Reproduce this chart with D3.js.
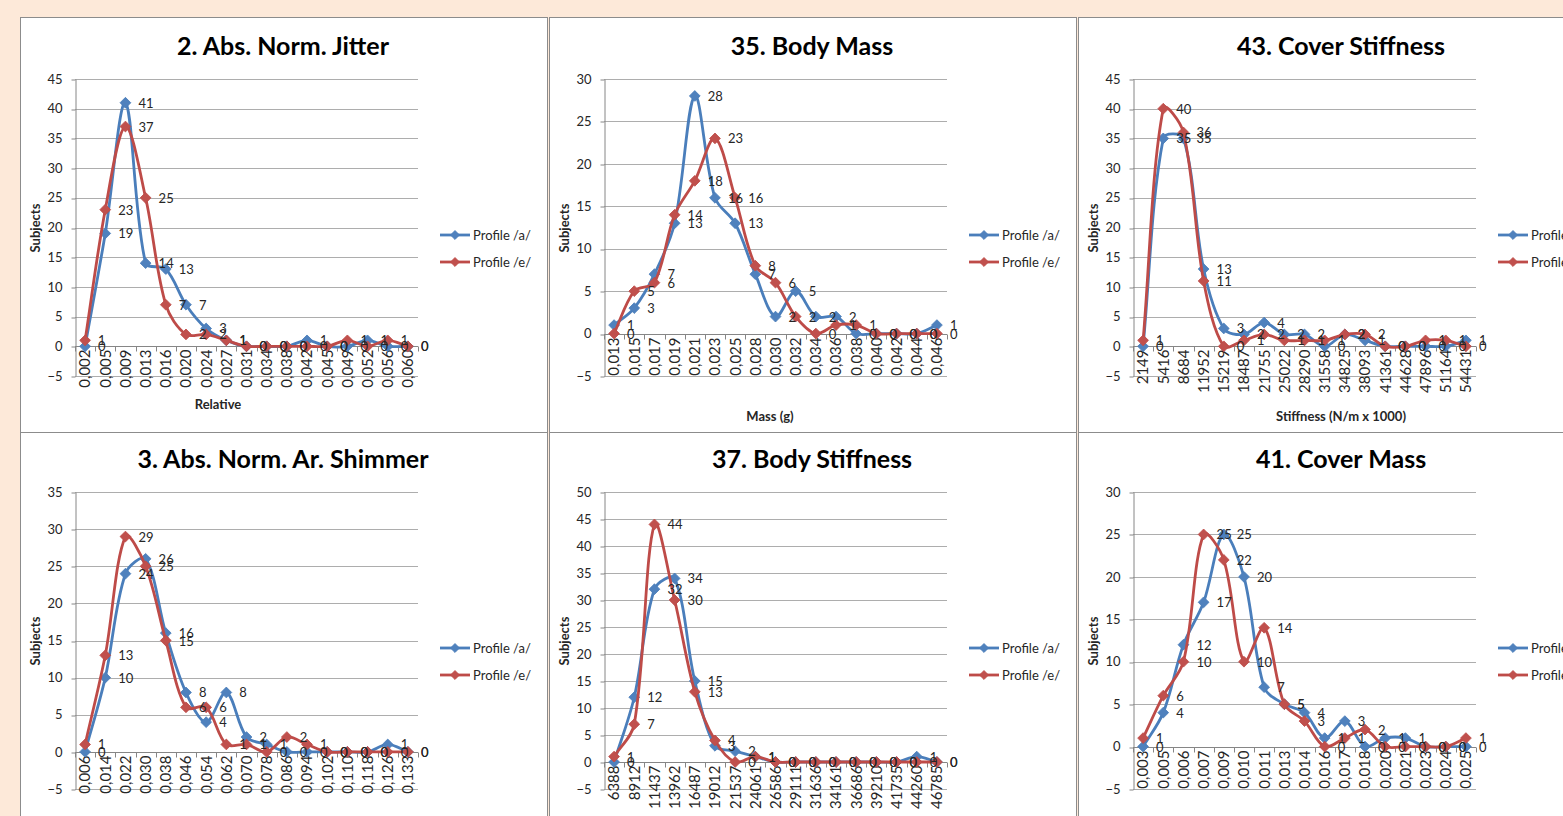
<!DOCTYPE html>
<html>
<head>
<meta charset="utf-8">
<script src="https://cdn.jsdelivr.net/npm/d3@7/dist/d3.min.js"></script>
<style>
  html, body { margin: 0; padding: 0; background: #FDE9D9; }
  svg { display: block; }
  text { font-family: Lato, "Open Sans", sans-serif; }
</style>
</head>
<body>
<svg id="chart" width="1563" height="816"></svg>
<script>
// ---- Data: subject counts per bin, profile /a/ and /e/ ----
const jitterCats = ["0,002","0,005","0,009","0,013","0,016","0,020","0,024","0,027","0,031","0,034","0,038","0,042","0,045","0,049","0,052","0,056","0,060"];
const jitterA = [0,19,41,14,13,7,3,1,0,0,0,1,0,0,1,0,0];
const jitterE = [1,23,37,25,7,2,2,1,0,0,0,0,0,1,0,1,0];

const bodyMassCats = ["0,013","0,015","0,017","0,019","0,021","0,023","0,025","0,028","0,030","0,032","0,034","0,036","0,038","0,040","0,042","0,044","0,046"];
const bodyMassA = [1,3,7,13,28,16,13,7,2,5,2,2,0,0,0,0,1];
const bodyMassE = [0,5,6,14,18,23,16,8,6,2,0,1,1,0,0,0,0];

const coverStiffCats = ["2149","5416","8684","11952","15219","18487","21755","25022","28290","31558","34825","38093","41361","44628","47896","51164","54431"];
const coverStiffA = [0,35,35,13,3,2,4,2,2,0,2,1,0,0,0,0,1];
const coverStiffE = [1,40,36,11,0,1,2,1,1,1,2,2,0,0,1,1,0];

const shimmerCats = ["0,006","0,014","0,022","0,030","0,038","0,046","0,054","0,062","0,070","0,078","0,086","0,094","0,102","0,110","0,118","0,126","0,133"];
const shimmerA = [0,10,24,26,16,8,4,8,2,1,0,0,0,0,0,1,0];
const shimmerE = [1,13,29,25,15,6,6,1,1,0,2,1,0,0,0,0,0];

const bodyStiffCats = ["6388","8912","11437","13962","16487","19012","21537","24061","26586","29111","31636","34161","36686","39210","41735","44260","46785"];
const bodyStiffA = [0,12,32,34,15,3,2,1,0,0,0,0,0,0,0,1,0];
const bodyStiffE = [1,7,44,30,13,4,0,1,0,0,0,0,0,0,0,0,0];

const coverMassCats = ["0,003","0,005","0,006","0,007","0,009","0,010","0,011","0,013","0,014","0,016","0,017","0,018","0,020","0,021","0,023","0,024","0,025"];
const coverMassA = [0,4,12,17,25,20,7,5,4,1,3,0,1,1,0,0,0];
const coverMassE = [1,6,10,25,22,10,14,5,3,0,1,2,0,0,0,0,1];

const seriesNames = ["Profile /a/", "Profile /e/"];
const yMaxes = [45, 30, 45, 35, 50, 30];

const panels = [
  { title: "2. Abs. Norm. Jitter",      cats: jitterCats,     a: jitterA,     e: jitterE,     yMax: yMaxes[0], xTitle: "Relative", col: 0, row: 0, xTitleX: 198, xTitleY: 387 },
  { title: "35. Body Mass",             cats: bodyMassCats,   a: bodyMassA,   e: bodyMassE,   yMax: yMaxes[1], xTitle: "Mass (g)", col: 1, row: 0, xTitleX: 221, xTitleY: 399 },
  { title: "43. Cover Stiffness",       cats: coverStiffCats, a: coverStiffA, e: coverStiffE, yMax: yMaxes[2], xTitle: "Stiffness (N/m x 1000)", col: 2, row: 0, xTitleX: 263, xTitleY: 399 },
  { title: "3. Abs. Norm. Ar. Shimmer", cats: shimmerCats,    a: shimmerA,    e: shimmerE,    yMax: yMaxes[3], xTitle: "Relative", col: 0, row: 1, xTitleX: 197, xTitleY: 392 },
  { title: "37. Body Stiffness",        cats: bodyStiffCats,  a: bodyStiffA,  e: bodyStiffE,  yMax: yMaxes[4], xTitle: "Stiffness (N/m x 1000)", col: 1, row: 1, xTitleX: 263, xTitleY: 402 },
  { title: "41. Cover Mass",            cats: coverMassCats,  a: coverMassA,  e: coverMassE,  yMax: yMaxes[5], xTitle: "Mass (g)", col: 2, row: 1, xTitleX: 221, xTitleY: 402 }
];

// ---- Styling ----
const lineColors = ["#4A7EBB", "#BE4B48"];
const markerColors = ["#4F81BD", "#C0504D"];
const gridColor = "#ADADAD";
const axisColor = "#868686";
const textColor = "#262626";

const svg = d3.select("#chart");

const colX = [20, 549, 1078];
const rowTop = [17, 430];     // layout origin of each row
const boxTop = [17, 432];     // border of each row
const panelW = 527, panelH = 414;

const diamond = size => d3.symbol(d3.symbolSquare, size)();

// Smoothed line through points: cubic Bezier segments whose handles follow the
// neighbouring chord and are scaled by the relative segment lengths.
function smoothPath(pts) {
  const path = d3.path();
  if (!pts.length) return "";
  path.moveTo(pts[0][0], pts[0][1]);
  const dist = (a, b) => Math.hypot(b[0] - a[0], b[1] - a[1]);
  for (let i = 0; i < pts.length - 1; i++) {
    const p0 = pts[i - 1] || pts[i], p1 = pts[i], p2 = pts[i + 1], p3 = pts[i + 2] || pts[i + 1];
    const d01 = dist(p0, p1), d12 = dist(p1, p2), d23 = dist(p2, p3);
    const f1 = (d01 + d12) > 0 ? d12 / (d01 + d12) / 3 : 0;
    const f2 = (d12 + d23) > 0 ? d12 / (d12 + d23) / 3 : 0;
    const c1 = [p1[0] + (p2[0] - p0[0]) * f1, p1[1] + (p2[1] - p0[1]) * f1];
    const c2 = [p2[0] - (p3[0] - p1[0]) * f2, p2[1] - (p3[1] - p1[1]) * f2];
    path.bezierCurveTo(c1[0], c1[1], c2[0], c2[1], p2[0], p2[1]);
  }
  return path.toString();
}

panels.forEach(p => {
  const px = colX[p.col], py = rowTop[p.row];
  const g = svg.append("g");

  g.append("rect")
    .attr("x", px + 0.5).attr("y", boxTop[p.row] + 0.5)
    .attr("width", panelW).attr("height", panelH + 40)
    .attr("fill", "#FFFFFF").attr("stroke", "#8C8C8C").attr("stroke-width", 1);

  const left = px + 55, right = px + 398;
  const x = d3.scaleBand().domain(p.cats).range([left, right]);
  const y = d3.scaleLinear().domain([-5, p.yMax]).range([py + 359, py + 62]);
  const cx = c => x(c) + x.bandwidth() / 2;
  const tickVals = d3.range(-5, p.yMax + 1, 5);

  // Title
  g.append("text")
    .attr("x", px + 263).attr("y", py + 28)
    .attr("text-anchor", "middle").attr("dominant-baseline", "central")
    .attr("font-size", 25).attr("font-weight", 700).attr("fill", "#000")
    .text(p.title);

  // Horizontal gridlines
  g.append("g").selectAll("line").data(tickVals.filter(v => v !== 0)).join("line")
    .attr("x1", left).attr("x2", right)
    .attr("y1", d => Math.round(y(d)) + 0.5).attr("y2", d => Math.round(y(d)) + 0.5)
    .attr("stroke", gridColor).attr("stroke-width", 1);

  // Value axis
  const yAxis = g.append("g")
    .attr("transform", `translate(${left + 0.5},0)`)
    .call(d3.axisLeft(y).tickValues(tickVals).tickSize(4).tickSizeOuter(0).tickPadding(9));
  yAxis.select(".domain").attr("stroke", axisColor);
  yAxis.selectAll(".tick line").attr("stroke", axisColor)
    .attr("transform", d => `translate(0,${Math.round(y(d)) + 0.5 - y(d)})`);
  yAxis.selectAll(".tick text")
    .attr("font-size", 13).attr("fill", textColor).attr("font-family", null);

  // Category axis on the zero line
  const y0 = Math.round(y(0)) + 0.5;
  const xAxis = g.append("g")
    .attr("transform", `translate(0,${y0})`)
    .call(d3.axisBottom(x).tickSize(0).tickSizeOuter(0));
  xAxis.select(".domain").attr("stroke", axisColor).attr("d", `M${left},0H${right}`);
  xAxis.selectAll(".tick text")
    .attr("transform", "rotate(-90)")
    .attr("text-anchor", "end")
    .attr("x", -3).attr("y", 0).attr("dy", "0.36em")
    .attr("font-size", 15).attr("fill", textColor).attr("font-family", null);
  // boundary tick marks between categories
  const bounds = p.cats.map(c => x(c)).concat([right]);
  g.append("g").selectAll("line").data(bounds).join("line")
    .attr("x1", d => Math.round(d) + 0.5).attr("x2", d => Math.round(d) + 0.5)
    .attr("y1", y0).attr("y2", y0 + 5)
    .attr("stroke", axisColor);

  // Axis titles
  g.append("text")
    .attr("transform", `translate(${px + 15},${py + 211}) rotate(-90)`)
    .attr("text-anchor", "middle").attr("dominant-baseline", "central")
    .attr("font-size", 13).attr("font-weight", 700).attr("fill", textColor)
    .text("Subjects");
  g.append("text")
    .attr("x", px + p.xTitleX).attr("y", py + p.xTitleY)
    .attr("text-anchor", "middle").attr("dominant-baseline", "central")
    .attr("font-size", 13).attr("font-weight", 700).attr("fill", textColor)
    .text(p.xTitle);

  // Series
  const series = [p.a, p.e];
  series.forEach((vals, s) => {
    const pts = vals.map((d, i) => [cx(p.cats[i]), y(d)]);
    g.append("path")
      .attr("d", smoothPath(pts))
      .attr("fill", "none").attr("stroke", lineColors[s])
      .attr("stroke-width", 2.8).attr("stroke-linejoin", "round");
    g.append("g").selectAll("path").data(vals).join("path")
      .attr("d", diamond(58))
      .attr("transform", (d, i) => `translate(${cx(p.cats[i])},${y(d)}) rotate(45)`)
      .attr("fill", markerColors[s]).attr("stroke", lineColors[s]).attr("stroke-width", 0.8);
  });

  // Data labels to the right of each point
  series.forEach(vals => {
    g.append("g").selectAll("text").data(vals).join("text")
      .attr("x", (d, i) => cx(p.cats[i]) + 13)
      .attr("y", d => y(d))
      .attr("dominant-baseline", "central")
      .attr("font-size", 13).attr("fill", textColor)
      .text(d => d);
  });

  // Legend
  const lx = px + 420;
  seriesNames.forEach((name, s) => {
    const ly = py + 218 + s * 27;
    g.append("line")
      .attr("x1", lx).attr("x2", lx + 30).attr("y1", ly).attr("y2", ly)
      .attr("stroke", lineColors[s]).attr("stroke-width", 2.8);
    g.append("path")
      .attr("d", diamond(40))
      .attr("transform", `translate(${lx + 15},${ly}) rotate(45)`)
      .attr("fill", markerColors[s]).attr("stroke", lineColors[s]).attr("stroke-width", 0.8);
    g.append("text")
      .attr("x", lx + 33).attr("y", ly)
      .attr("dominant-baseline", "central")
      .attr("font-size", 13).attr("fill", textColor)
      .text(name);
  });
});
</script>
</body>
</html>
